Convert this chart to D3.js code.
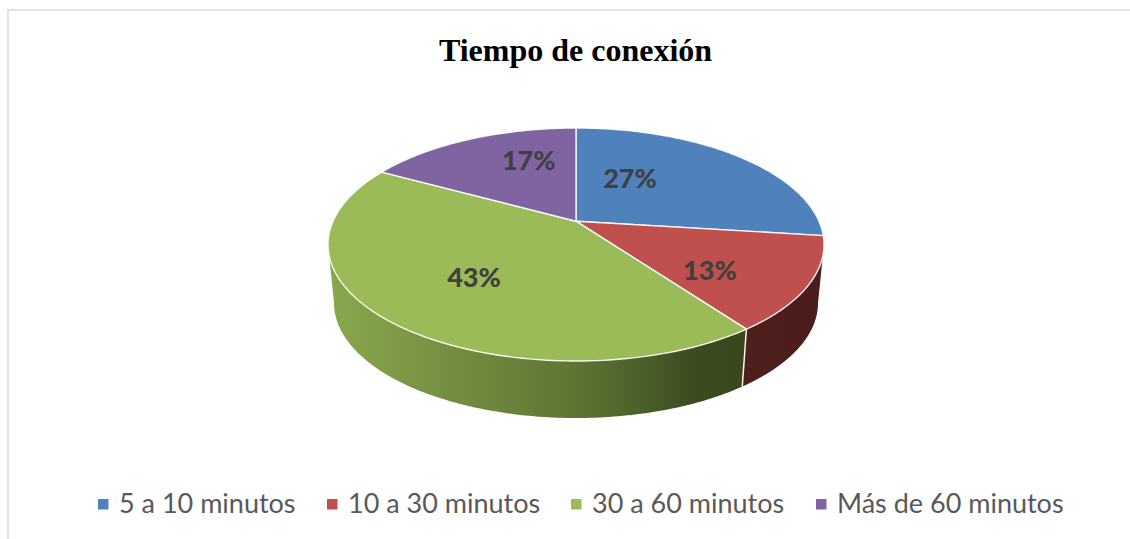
<!DOCTYPE html>
<html><head><meta charset="utf-8">
<script src="https://cdn.jsdelivr.net/npm/d3@7/dist/d3.min.js"></script>
<style>html,body{margin:0;background:#fff}svg{display:block}</style>
</head><body><svg id="c" width="1130" height="539"></svg>
<script>
const title = "Tiempo de conexión";
const categories = ["5 a 10 minutos", "10 a 30 minutos", "30 a 60 minutos", "Más de 60 minutos"];
const values = [27, 13, 43, 17];
const colors = ["#4f81bd", "#c0504d", "#9bbb59", "#8064a2"];

// layout (not data)
const BETA = 0.2;                        // perspective foreshortening of the tilted disc
const labelNudge = [[-26.5,-10],[17.5,18],[-7.5,7],[5.5,-19.5]];
const legendSquareX = [98, 327, 571, 816];

const svg = d3.select("#c");
const sx = d3.scaleLinear([-1,1],[328,824]), sy = d3.scaleLinear([-1,1],[128,361]);
const bx = d3.scaleLinear([-1,1],[334,818]), by = d3.scaleLinear([-1,1],[188,418]);
const line = d3.line();

// true pie angle -> apparent angle on the ellipse
const warp = t => {
  const c = Math.cos(t), s = Math.sin(t), d = 1 + BETA*c;
  return Math.atan2(s*Math.sqrt(1-BETA*BETA)/d, (c+BETA)/d);
};
const unwrap = a => a < -1e-6 ? a + 2*Math.PI : a;
const arcs = d3.pie().sort(null).value(d=>d)(values).map((a,i)=>{
  const s = unwrap(warp(a.startAngle));
  let e = unwrap(warp(a.endAngle)); if (e <= s) e += 2*Math.PI;
  return {i, s, e, m: warp((a.startAngle+a.endAngle)/2)};
});
const rim = (a, X, Y) => [X(Math.sin(a)), Y(-Math.cos(a))];
const samples = (a0,a1,X,Y) => d3.range(0,121).map(k=>rim(a0+(a1-a0)*k/120,X,Y));
const apex = [sx(0), sy(-BETA)];

const defs = svg.append("defs");
const g1 = defs.append("linearGradient").attr("id","wallGreen").attr("gradientUnits","userSpaceOnUse")
  .attr("x1",328).attr("x2",745).attr("y1",0).attr("y2",0);
[[0,"#89a84d"],[0.3,"#748e40"],[0.6,"#5e7434"],[0.78,"#485c28"],[0.88,"#3b4b1f"],[1,"#3a471e"]]
  .forEach(([o,c])=>g1.append("stop").attr("offset",o).attr("stop-color",c));
const g2 = defs.append("linearGradient").attr("id","wallRed").attr("gradientUnits","userSpaceOnUse")
  .attr("x1",745).attr("x2",824).attr("y1",0).attr("y2",0);
[[0,"#4f1f1e"],[1,"#4a1c1b"]].forEach(([o,c])=>g2.append("stop").attr("offset",o).attr("stop-color",c));

// chart frame
svg.append("path").attr("d",line([[8,539],[8,10],[1130,10]]))
  .attr("fill","none").attr("stroke","#d9d9d9").attr("stroke-width",1.5);

// side walls
const wall = (a0,a1,fill) => {
  const pts = samples(a0,a1,sx,sy).concat(samples(a0,a1,bx,by).reverse());
  svg.append("path").attr("d",line(pts)+"Z").attr("fill",fill);
};
const red = arcs[1], green = arcs[2];
wall(Math.PI/2, red.e, "url(#wallRed)");
wall(green.s, 3*Math.PI/2, "url(#wallGreen)");
svg.append("path").attr("d",line([rim(red.e,sx,sy),rim(red.e,bx,by)]))
  .attr("stroke","#f4f4ea").attr("stroke-width",1.5).attr("fill","none");

// top face
arcs.forEach(a=>{
  svg.append("path").attr("d",line([apex,...samples(a.s,a.e,sx,sy)])+"Z")
    .attr("fill",colors[a.i]).attr("stroke","#fff").attr("stroke-opacity",0.9)
    .attr("stroke-width",1.4).attr("stroke-linejoin","round");
});

// data labels
arcs.forEach(a=>{
  const p = rim(a.m,sx,sy);
  svg.append("text")
    .attr("x",(apex[0]+p[0])/2+labelNudge[a.i][0])
    .attr("y",(apex[1]+p[1])/2+labelNudge[a.i][1])
    .attr("dy","0.35em").attr("text-anchor","middle")
    .attr("font-family","Lato, 'Open Sans', sans-serif").attr("font-weight",900)
    .attr("font-size",27).attr("fill","#404040")
    .text(values[a.i]+"%");
});

// title
svg.append("text").attr("x",575.5).attr("y",61).attr("text-anchor","middle")
  .attr("font-family","'Liberation Serif', serif").attr("font-weight",700)
  .attr("font-size",32).attr("fill","#000").text(title);

// legend
categories.forEach((c,i)=>{
  svg.append("rect").attr("x",legendSquareX[i]).attr("y",499).attr("width",10.5).attr("height",10.5).attr("fill",colors[i]);
  svg.append("text").attr("x",legendSquareX[i]+21).attr("y",513)
    .attr("font-family","Lato, 'Open Sans', sans-serif").attr("font-size",27)
    .attr("fill","#595959").text(c);
});
</script></body></html>
